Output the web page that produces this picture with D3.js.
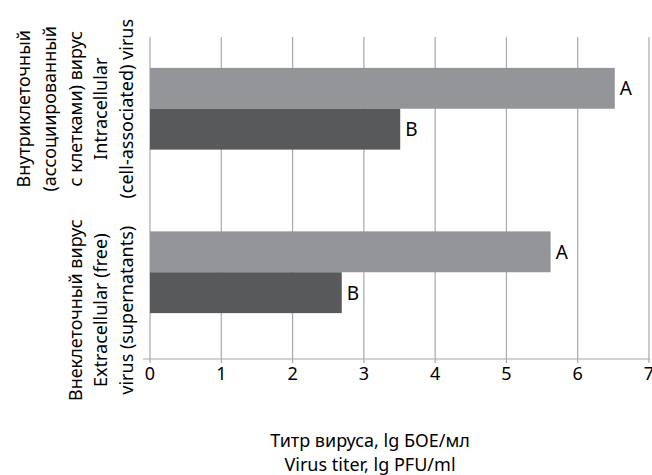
<!DOCTYPE html>
<html>
<head>
<meta charset="utf-8">
<script src="https://cdn.jsdelivr.net/npm/d3@7"></script>
<style>
  body { margin: 0; background: #fff; }
  text { font-family: "Noto Sans", sans-serif; fill: #000; }
</style>
</head>
<body>
<div class="viz"></div>
<script>
// data
const categories = ['intracellular', 'extracellular'];
const categoryLabels = [
    ['Внутриклеточный', '(ассоциированный', 'с клетками) вирус', 'Intracellular', '(cell-associated) virus'],
    ['Внеклеточный вирус', 'Extracellular (free)', 'virus (supernatants)']
];
const seriesNames = ['A', 'B'];
const valuesA = [6.52, 5.62];
const valuesB = [3.51, 2.69];
const xTicks = [0, 1, 2, 3, 4, 5, 6, 7];
const titleLines = ['Титр вируса, lg БОЕ/мл', 'Virus titer, lg PFU/ml'];

const W = 652, H = 475;
const plotLeft = 150, plotRight = 649, plotTop = 37, plotBottom = 359;
const colors = { A: '#939598', B: '#58595b' };
const gridColor = '#a6a8ab';
const fs = 18;

const svg = d3.select('.viz').append('svg')
    .attr('width', W)
    .attr('height', H);

const x = d3.scaleLinear().domain([0, 7]).range([plotLeft, plotRight]);
const y = d3.scaleBand().domain(categories).range([27, 354])
    .paddingInner(0.5).paddingOuter(0.25);
const ySub = d3.scaleBand().domain(seriesNames).range([0, y.bandwidth()]);

// gridlines (run down through the axis as tick marks)
svg.append('g').selectAll('line')
    .data(xTicks)
    .enter()
    .append('line')
    .attr('x1', d => x(d))
    .attr('x2', d => x(d))
    .attr('y1', plotTop)
    .attr('y2', plotBottom + 4)
    .attr('stroke', gridColor)
    .attr('stroke-width', 1.2);

// bottom axis line
svg.append('line')
    .attr('x1', plotLeft - 7).attr('x2', plotRight + 1)
    .attr('y1', plotBottom).attr('y2', plotBottom)
    .attr('stroke', gridColor)
    .attr('stroke-width', 1.2);

const rows = categories.map((c, i) => ({
    cat: c,
    items: [{ name: 'A', value: valuesA[i] }, { name: 'B', value: valuesB[i] }]
}));

const groups = svg.append('g').selectAll('g')
    .data(rows)
    .enter()
    .append('g')
    .attr('transform', d => 'translate(0,' + y(d.cat) + ')');

groups.selectAll('rect')
    .data(d => d.items)
    .enter()
    .append('rect')
    .attr('x', x(0))
    .attr('y', d => ySub(d.name))
    .attr('width', d => x(d.value) - x(0))
    .attr('height', ySub.bandwidth())
    .attr('fill', d => colors[d.name]);

groups.selectAll('text')
    .data(d => d.items)
    .enter()
    .append('text')
    .attr('x', d => x(d.value) + 5)
    .attr('y', d => ySub(d.name) + ySub.bandwidth() / 2 + 7)
    .attr('font-size', 19)
    .text(d => d.name);

// tick labels
svg.append('g').selectAll('text')
    .data(xTicks)
    .enter()
    .append('text')
    .attr('x', d => x(d))
    .attr('y', 380)
    .attr('text-anchor', 'middle')
    .attr('font-size', fs)
    .text(d => d);

// category labels, rotated
const labelShift = [0, 38];
const lineStep = 25.75;
categoryLabels.forEach((lines, i) => {
    const cy = y(categories[i]) + y.bandwidth() / 2 + labelShift[i];
    const n = lines.length;
    lines.forEach((t, j) => {
        const bx = 133 - (n - 1 - j) * lineStep;
        svg.append('text')
            .attr('transform', 'translate(' + bx + ',' + cy + ') rotate(-90)')
            .attr('text-anchor', 'middle')
            .attr('font-size', fs)
            .text(t);
    });
});

// axis title
svg.append('g').selectAll('text')
    .data(titleLines)
    .enter()
    .append('text')
    .attr('x', 370)
    .attr('y', (d, i) => 447 + i * 24)
    .attr('text-anchor', 'middle')
    .attr('font-size', fs)
    .text(d => d);
</script>
</body>
</html>
